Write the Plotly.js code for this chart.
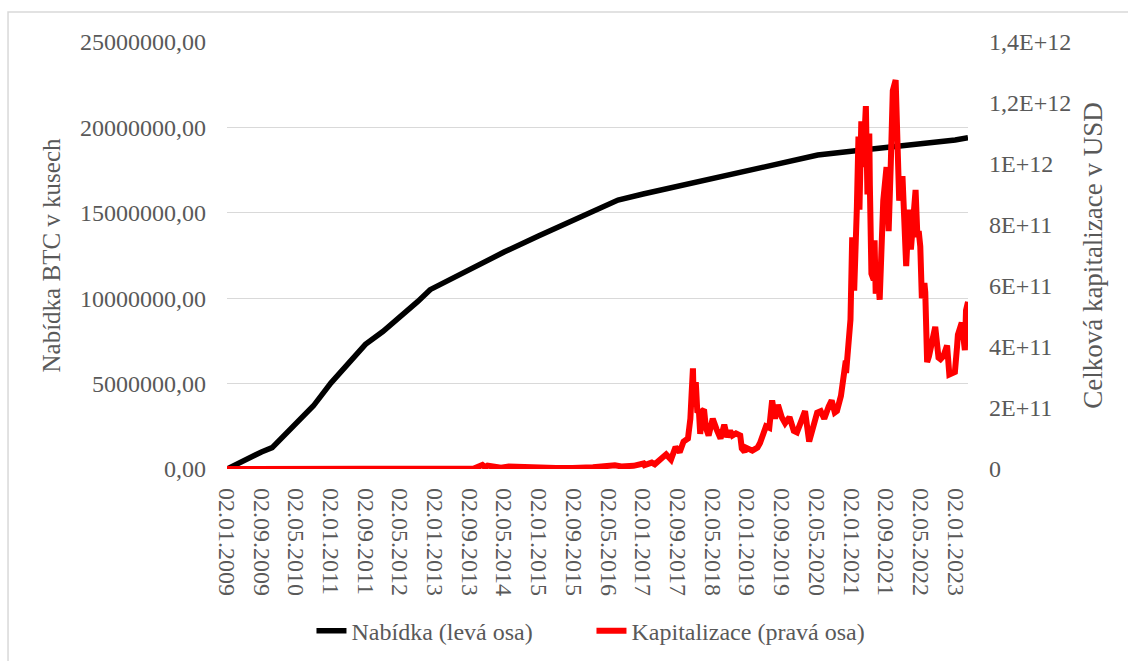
<!DOCTYPE html>
<html>
<head>
<meta charset="utf-8">
<script src="https://cdn.plot.ly/plotly-3.0.1.min.js"></script>
<style>
  html, body { margin: 0; padding: 0; background: #ffffff; }
  #chart { width: 1128px; height: 661px; }
</style>
</head>
<body>
<div id="chart"></div>
<script>
// Bitcoin supply (left axis, BTC)
const supplyDates = [
  '2009-01-02','2009-03-01','2009-05-01','2009-07-01','2009-09-01','2009-11-15','2010-01-01',
  '2010-05-01','2010-09-01','2011-01-01','2011-05-01','2011-09-01','2012-01-01','2012-05-01',
  '2012-09-01','2012-11-28','2013-01-01','2013-09-01','2014-05-01','2015-01-01','2015-09-01',
  '2016-05-01','2016-07-09','2017-01-01','2018-01-01','2019-01-01','2020-01-01','2020-05-11',
  '2021-01-01','2022-01-01','2023-01-01','2023-04-01'
];
const supplyValues = [
  0, 250000, 550000, 800000, 1000000, 1250000, 1630000,
  2600000, 3700000, 5030000, 6200000, 7300000, 8050000, 8900000,
  9800000, 10500000, 10650000, 11700000, 12700000, 13650000, 14600000,
  15500000, 15750000, 16100000, 16800000, 17450000, 18150000, 18380000,
  18600000, 18920000, 19260000, 19400000
];

// Total market capitalisation (right axis, billions of USD)
const capDates = [
  '2009-01-02','2010-07-17','2011-06-08','2012-01-15','2012-08-15','2013-01-02','2013-04-09',
  '2013-07-05','2013-10-01','2013-11-30','2013-12-18','2014-01-05','2014-02-25','2014-04-10',
  '2014-06-03','2014-08-20','2014-12-31','2015-01-14','2015-05-01','2015-08-24','2015-11-04',
  '2015-12-16','2016-01-15','2016-06-17','2016-08-02','2016-10-26','2016-12-20','2017-01-04',
  '2017-01-11','2017-03-03','2017-03-24','2017-05-25','2017-06-12','2017-07-16','2017-08-17',
  '2017-09-15','2017-10-12','2017-11-12','2017-11-29','2017-12-07','2017-12-17','2017-12-22',
  '2018-01-06','2018-01-17','2018-01-28','2018-02-06','2018-02-20','2018-03-05','2018-03-18',
  '2018-04-06','2018-05-05','2018-06-01','2018-06-29','2018-07-25','2018-08-14','2018-09-04',
  '2018-09-20','2018-10-15','2018-11-14','2018-11-25','2018-12-15','2018-12-24','2019-01-10',
  '2019-02-07','2019-03-15','2019-04-02','2019-05-14','2019-06-06','2019-06-26','2019-07-16',
  '2019-08-06','2019-09-01','2019-09-25','2019-10-26','2019-11-25','2019-12-17','2020-01-19',
  '2020-02-12','2020-03-12','2020-04-08','2020-05-07','2020-06-01','2020-06-26','2020-07-27',
  '2020-08-17','2020-09-08','2020-09-23','2020-10-21','2020-11-05','2020-11-24','2020-11-26',
  '2020-12-16','2020-12-27','2021-01-08','2021-01-22','2021-02-10','2021-02-21','2021-02-28',
  '2021-03-13','2021-03-25','2021-04-14','2021-04-25','2021-05-08','2021-05-12','2021-05-19',
  '2021-05-23','2021-06-08','2021-06-14','2021-06-22','2021-07-08','2021-07-20','2021-08-05',
  '2021-08-14','2021-09-06','2021-09-21','2021-10-06','2021-10-20','2021-11-09','2021-11-20',
  '2021-12-04','2021-12-27','2022-01-10','2022-01-22','2022-02-10','2022-02-24','2022-03-29',
  '2022-04-11','2022-04-20','2022-05-01','2022-05-12','2022-05-30','2022-06-05','2022-06-18',
  '2022-07-01','2022-08-14','2022-09-06','2022-09-20','2022-10-10','2022-11-05','2022-11-21',
  '2022-12-30','2023-01-14','2023-01-20','2023-02-16','2023-03-10','2023-03-18','2023-04-01'
];
const capValuesBn = [
  0, 0, 0.2, 0.05, 0.1, 0.15, 2.5,
  0.75, 1.5, 13, 6, 11, 7, 4.5,
  8.3, 6.5, 4.3, 2.4, 3.3, 3.1, 6.5,
  7, 5.7, 12, 8.5, 10.5, 13.5, 18,
  12.5, 21, 15.5, 38, 48, 31, 72,
  55, 90, 100, 165, 240, 330, 230,
  285, 185, 190, 115, 190, 195, 135,
  110, 165, 130, 100, 145, 105, 125,
  110, 117, 110, 67, 56, 70, 65,
  60, 70, 85, 140, 135, 225, 165,
  210, 170, 150, 170, 125, 120, 160,
  190, 90, 130, 185, 190, 165, 205,
  225, 185, 190, 240, 280, 355, 315,
  400, 490, 760, 585, 860, 1090, 850,
  1140, 990, 1190, 900, 1100, 930, 700,
  640, 620, 750, 575, 630, 555, 760,
  880, 990, 780, 1000, 1240, 1275, 1080,
  880, 960, 790, 665, 850, 720, 915,
  760, 780, 730, 560, 610, 580, 350,
  370, 466, 365, 360, 370, 405, 310,
  318, 400, 440, 480, 390, 520, 548
];

// Axis ticks
const dateTickVals = [
  '2009-01-02','2009-09-02','2010-05-02','2011-01-02','2011-09-02','2012-05-02','2013-01-02',
  '2013-09-02','2014-05-02','2015-01-02','2015-09-02','2016-05-02','2017-01-02','2017-09-02',
  '2018-05-02','2019-01-02','2019-09-02','2020-05-02','2021-01-02','2021-09-02','2022-05-02',
  '2023-01-02'
];
const dateTickText = dateTickVals.map(d => {
  const [y, m, day] = d.split('-');
  return day + '.' + m + '.' + y;
});
const supplyTickVals = [0, 5000000, 10000000, 15000000, 20000000, 25000000];
const supplyTickText = ['0,00', '5000000,00', '10000000,00', '15000000,00', '20000000,00', '25000000,00'];
const capTickVals = [0, 2e11, 4e11, 6e11, 8e11, 1e12, 1.2e12, 1.4e12];
const capTickText = ['0', '2E+11', '4E+11', '6E+11', '8E+11', '1E+12', '1,2E+12', '1,4E+12'];

const FONT = 'Liberation Serif, Times New Roman, serif';
const GREY = '#595959';

const traces = [
  {
    type: 'scatter', mode: 'lines', name: 'Nabídka (levá osa)',
    x: supplyDates, y: supplyValues, yaxis: 'y',
    line: { color: '#000000', width: 5.5 }
  },
  {
    type: 'scatter', mode: 'lines', name: 'Kapitalizace (pravá osa)',
    x: capDates, y: capValuesBn.map(v => v * 1e9), yaxis: 'y2',
    line: { color: '#ff0000', width: 6 }
  }
];

const layout = {
  width: 1128, height: 661,
  margin: { l: 227, r: 160, t: 42, b: 192, autoexpand: false },
  paper_bgcolor: '#ffffff', plot_bgcolor: '#ffffff',
  font: { family: FONT, size: 24, color: GREY },
  showlegend: true,
  hovermode: false,
  xaxis: {
    type: 'date',
    range: ['2009-01-02', '2023-04-01'],
    tickmode: 'array', tickvals: dateTickVals, ticktext: dateTickText,
    tickangle: 90, ticks: '', ticklabelstandoff: 18,
    showgrid: false, zeroline: false, showline: false,
    tickfont: { family: FONT, size: 24, color: GREY }
  },
  yaxis: {
    range: [0, 25000000],
    tickmode: 'array', tickvals: supplyTickVals, ticktext: supplyTickText,
    ticks: '', ticklabelstandoff: 20,
    showgrid: true, gridcolor: '#d9d9d9', gridwidth: 1.3,
    zeroline: false, showline: false,
    tickfont: { family: FONT, size: 24, color: GREY },
    title: { text: 'Nabídka BTC v kusech', font: { family: FONT, size: 25, color: GREY }, standoff: 12 }
  },
  yaxis2: {
    overlaying: 'y', side: 'right',
    range: [0, 1.4e12],
    tickmode: 'array', tickvals: capTickVals, ticktext: capTickText,
    ticks: '', ticklabelstandoff: 20,
    showgrid: false, zeroline: false, showline: false,
    tickfont: { family: FONT, size: 24, color: GREY },
    title: { text: 'Celková kapitalizace v USD', font: { family: FONT, size: 27, color: GREY }, standoff: 12 }
  },
  legend: {
    orientation: 'h',
    x: 0.114, xanchor: 'left',
    y: -0.38, yanchor: 'middle',
    font: { family: FONT, size: 24, color: GREY },
    bgcolor: 'rgba(0,0,0,0)',
    entrywidth: 235, entrywidthmode: 'pixels'
  },
  shapes: [
    {
      type: 'rect', xref: 'paper', yref: 'paper', layer: 'below',
      x0: -0.2955, x1: 1.25, y0: -0.5, y1: 1.0703,
      line: { color: '#d9d9d9', width: 1.5 }, fillcolor: 'rgba(0,0,0,0)'
    }
  ]
};

Plotly.newPlot('chart', traces, layout, { displayModeBar: false, staticPlot: true });
</script>
</body>
</html>
